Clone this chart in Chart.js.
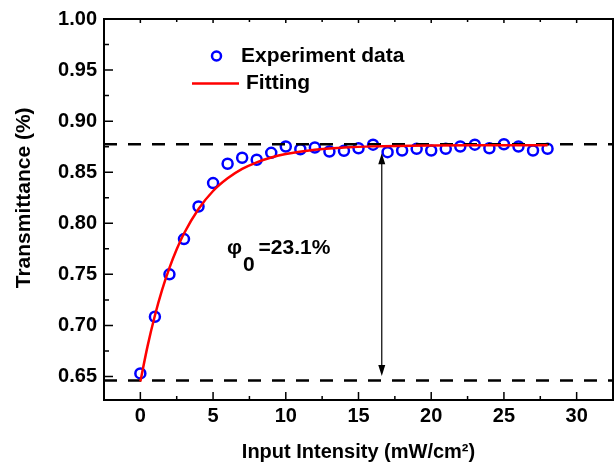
<!DOCTYPE html>
<html>
<head>
<meta charset="utf-8">
<title>Transmittance vs Input Intensity</title>
<script src="https://cdn.jsdelivr.net/npm/chart.js@4.4.0/dist/chart.umd.min.js"></script>
<style>
    html, body { margin: 0; padding: 0; background: #fff; }
    #wrap { width: 615px; height: 468px; }
</style>
</head>
<body>
<div id="wrap"><canvas id="transChart" width="615" height="468"></canvas></div>
<script>
// measured points
const intensity = [0, 1, 2, 3, 4, 5, 6, 7, 8, 9, 10, 11, 12, 13, 14, 15, 16, 17, 18, 19, 20, 21, 22, 23, 24, 25, 26, 27, 28];
const transmittance = [0.653, 0.7085, 0.750, 0.7845, 0.8164, 0.8394, 0.8583, 0.8642, 0.8622, 0.869,
    0.8752, 0.8725, 0.8742, 0.8703, 0.871, 0.8735, 0.877, 0.8696, 0.8713, 0.873,
    0.8713, 0.873, 0.8752, 0.877, 0.8735, 0.8774, 0.8752, 0.8713, 0.873];

// fitted curve
const fitX = [0, 0.5, 1, 1.5, 2, 2.5, 3, 4, 5, 6, 7, 8, 9, 10, 12, 14, 16, 20, 24, 28];
const fitY = [0.645, 0.680, 0.7097, 0.735, 0.7563, 0.7745, 0.790, 0.814, 0.8316, 0.844, 0.8532, 0.8597,
    0.8644, 0.8678, 0.872, 0.8741, 0.8753, 0.8762, 0.8764, 0.8765];

// dashed reference levels
const levelX = [-2.5, 32.5];
const levelHigh = [0.8775, 0.8775];
const levelLow = [0.646, 0.646];

const xTicks = [0, 5, 10, 15, 20, 25, 30];
const xMinor = [2.5, 7.5, 12.5, 17.5, 22.5, 27.5];
const yTicks = [0.65, 0.70, 0.75, 0.80, 0.85, 0.90, 0.95, 1.00];
const yMinor = [0.675, 0.725, 0.775, 0.825, 0.875, 0.925, 0.975];

const FONT = "'Liberation Sans', Arial, Helvetica, sans-serif";

function pairs(xs, ys) {
    return xs.map((v, i) => ({ x: v, y: ys[i] }));
}

// frame, inside ticks, arrow, phi label and legend
const decorations = {
    id: 'decorations',
    afterDatasetsDraw(chart) {
        const { ctx, chartArea: a, scales: { x, y } } = chart;
        ctx.save();
        ctx.strokeStyle = '#000';
        ctx.lineWidth = 2;
        ctx.strokeRect(a.left, a.top, a.right - a.left, a.bottom - a.top);

        ctx.lineWidth = 1.5;
        ctx.beginPath();
        xTicks.forEach(v => {
            const px = x.getPixelForValue(v);
            ctx.moveTo(px, a.bottom); ctx.lineTo(px, a.bottom - 8);
            ctx.moveTo(px, a.top); ctx.lineTo(px, a.top + 4);
        });
        xMinor.forEach(v => {
            const px = x.getPixelForValue(v);
            ctx.moveTo(px, a.bottom); ctx.lineTo(px, a.bottom - 4);
            ctx.moveTo(px, a.top); ctx.lineTo(px, a.top + 3);
        });
        yTicks.forEach(v => {
            const py = y.getPixelForValue(v);
            ctx.moveTo(a.left, py); ctx.lineTo(a.left + 9, py);
        });
        yMinor.forEach(v => {
            const py = y.getPixelForValue(v);
            ctx.moveTo(a.left, py); ctx.lineTo(a.left + 5, py);
        });
        ctx.stroke();

        // double arrow between the two levels
        const ax = x.getPixelForValue(16.6);
        const top = y.getPixelForValue(0.8685);
        const bot = y.getPixelForValue(0.6505);
        ctx.lineWidth = 1.2;
        ctx.beginPath();
        ctx.moveTo(ax, top + 8); ctx.lineTo(ax, bot - 8);
        ctx.stroke();
        ctx.fillStyle = '#000';
        ctx.beginPath();
        ctx.moveTo(ax, top); ctx.lineTo(ax - 3.5, top + 11); ctx.lineTo(ax + 3.5, top + 11); ctx.closePath();
        ctx.moveTo(ax, bot); ctx.lineTo(ax - 3.5, bot - 11); ctx.lineTo(ax + 3.5, bot - 11); ctx.closePath();
        ctx.fill();

        // phi_0 label
        let tx = x.getPixelForValue(5.95);
        const ty = y.getPixelForValue(0.770);
        ctx.font = 'bold 21px ' + FONT;
        ctx.textBaseline = 'alphabetic';
        ctx.textAlign = 'left';
        ctx.fillText('φ', tx, ty);
        tx += ctx.measureText('φ').width + 1;
        ctx.fillText('0', tx, ty + 17);
        tx += ctx.measureText('0').width + 4;
        ctx.fillText('=23.1%', tx, ty);

        // legend
        ctx.strokeStyle = '#0000ff';
        ctx.lineWidth = 2.5;
        ctx.beginPath();
        ctx.arc(216.5, 56, 4.5, 0, Math.PI * 2);
        ctx.stroke();
        ctx.strokeStyle = '#ff0000';
        ctx.beginPath();
        ctx.moveTo(192, 83.5); ctx.lineTo(239, 83.5);
        ctx.stroke();
        ctx.fillStyle = '#000';
        ctx.textBaseline = 'middle';
        ctx.fillText('Experiment data', 241, 56);
        ctx.fillText('Fitting', 246, 83);
        ctx.restore();
    }
};

const ctx = document.getElementById('transChart').getContext('2d');
new Chart(ctx, {
    type: 'scatter',
    data: {
        datasets: [
            {
                label: 'Experiment data',
                data: pairs(intensity, transmittance),
                showLine: false,
                pointStyle: 'circle',
                pointRadius: 5,
                pointBorderWidth: 2.5,
                pointBorderColor: '#0000ff',
                pointBackgroundColor: 'rgba(0,0,0,0)',
                order: 3
            },
            {
                label: 'upper level',
                data: pairs(levelX, levelHigh),
                showLine: true,
                borderColor: '#000',
                borderWidth: 2.5,
                borderDash: [13, 11],
                pointRadius: 0,
                order: 2
            },
            {
                label: 'lower level',
                data: pairs(levelX, levelLow),
                showLine: true,
                borderColor: '#000',
                borderWidth: 2.5,
                borderDash: [13, 11],
                pointRadius: 0,
                order: 2
            },
            {
                label: 'Fitting',
                data: pairs(fitX, fitY),
                showLine: true,
                borderColor: '#ff0000',
                borderWidth: 2.5,
                cubicInterpolationMode: 'monotone',
                pointRadius: 0,
                order: 1
            }
        ]
    },
    options: {
        responsive: false,
        animation: false,
        layout: { autoPadding: false, padding: { top: 17, right: 2, left: 0, bottom: 0 } },
        plugins: {
            legend: { display: false },
            tooltip: { enabled: false }
        },
        scales: {
            x: {
                type: 'linear',
                min: -2.5,
                max: 32.5,
                afterBuildTicks: s => { s.ticks = xTicks.map(v => ({ value: v })); },
                afterFit: s => { s.height = 68; s.paddingLeft = 0; s.paddingRight = 0; },
                grid: { display: false, drawTicks: false },
                border: { display: false },
                ticks: {
                    padding: 4,
                    color: '#000',
                    font: { family: FONT, size: 20, weight: 'bold' }
                },
                title: {
                    display: true,
                    text: 'Input Intensity (mW/cm²)',
                    color: '#000',
                    font: { family: FONT, size: 20, weight: 'bold' },
                    padding: { top: 0, bottom: 4 }
                }
            },
            y: {
                type: 'linear',
                min: 0.627,
                max: 1.0,
                afterBuildTicks: s => { s.ticks = yTicks.map(v => ({ value: v })); },
                afterFit: s => { s.width = 104; },
                grid: { display: false, drawTicks: false },
                border: { display: false },
                ticks: {
                    padding: 7,
                    color: '#000',
                    font: { family: FONT, size: 20, weight: 'bold' },
                    callback: v => v.toFixed(2)
                },
                title: {
                    display: true,
                    text: '    Transmittance (%)',
                    color: '#000',
                    font: { family: FONT, size: 21, weight: 'bold' },
                    padding: { top: 12, bottom: 0 }
                }
            }
        }
    },
    plugins: [decorations]
});
</script>
</body>
</html>
